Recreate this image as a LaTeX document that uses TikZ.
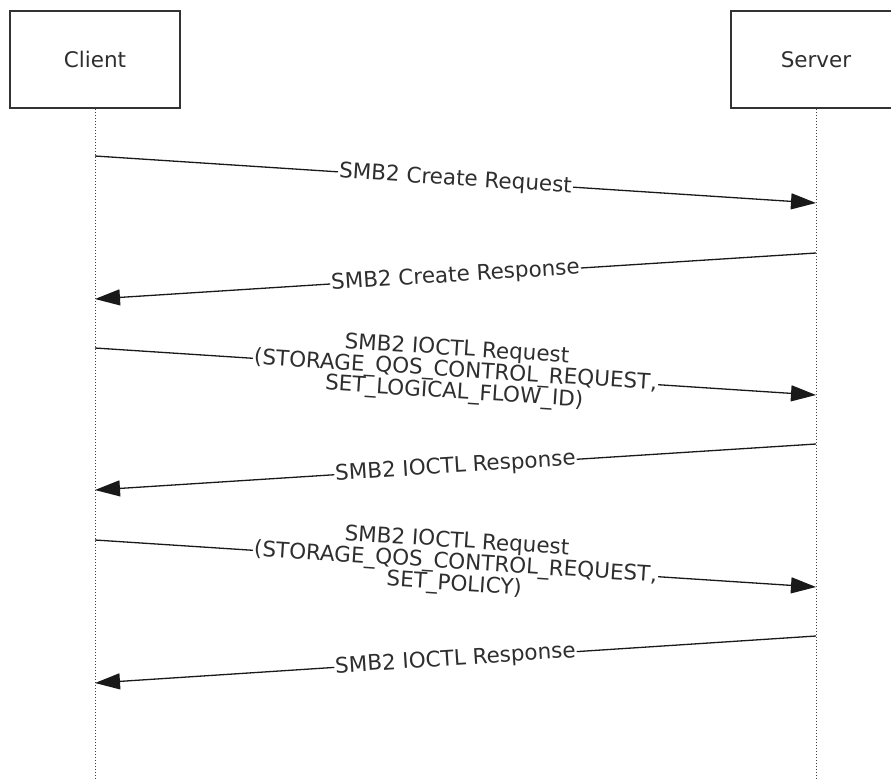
\documentclass[tikz,border=0pt]{standalone}
\usepackage{fontspec}
\setmainfont{DejaVu Sans}
\usetikzlibrary{arrows.meta}
\definecolor{txt}{HTML}{2E2E2E}
\tikzset{
  actor/.style={draw=black!80, line width=1.6pt, minimum width=170pt, minimum height=97pt, inner sep=0pt, text=txt, font=\fontsize{21.5}{23}\selectfont},
  lifeline/.style={draw=black!75, line width=0.9pt, dash pattern=on 1.6pt off 1.4pt},
  msg/.style={draw=black!90, line width=1.3pt, -{Triangle[length=25pt,width=16pt]}},
  lbl/.style={fill=white, inner sep=1pt, text=txt, align=center, font=\fontsize{21.5}{21.5}\selectfont, sloped, pos=0.5}
}
\begin{document}
\begin{tikzpicture}[x=1pt,y=-1pt]
\useasboundingbox (0,0) rectangle (891,779);
\clip (0,0) rectangle (891,779);
\node[actor] (client) at (95,59.5) {Client};
\node[actor] (server) at (816,59.5) {Server};
\coordinate (cend) at (95,779);
\coordinate (send) at (816,779);
\draw[lifeline] (client.south) -- (cend);
\draw[lifeline] (server.south) -- (send);
\coordinate (c1) at (95,156);  \coordinate (s1) at (816,203);
\coordinate (s2) at (816,253); \coordinate (c2) at (95,299);
\coordinate (c3) at (95,348);  \coordinate (s3) at (816,395);
\coordinate (s4) at (816,444); \coordinate (c4) at (95,490);
\coordinate (c5) at (95,540);  \coordinate (s5) at (816,587);
\coordinate (s6) at (816,636); \coordinate (c6) at (95,683);
\draw[msg] (c1) -- node[lbl] {SMB2 Create Request} (s1);
\draw[msg] (s2) -- node[lbl] {SMB2 Create Response} (c2);
\draw[msg] (c3) -- node[lbl] {SMB2 IOCTL Request\\(STORAGE\_QOS\_CONTROL\_REQUEST,\\SET\_LOGICAL\_FLOW\_ID)} (s3);
\draw[msg] (s4) -- node[lbl] {SMB2 IOCTL Response} (c4);
\draw[msg] (c5) -- node[lbl] {SMB2 IOCTL Request\\(STORAGE\_QOS\_CONTROL\_REQUEST,\\SET\_POLICY)} (s5);
\draw[msg] (s6) -- node[lbl] {SMB2 IOCTL Response} (c6);
\end{tikzpicture}
\end{document}
